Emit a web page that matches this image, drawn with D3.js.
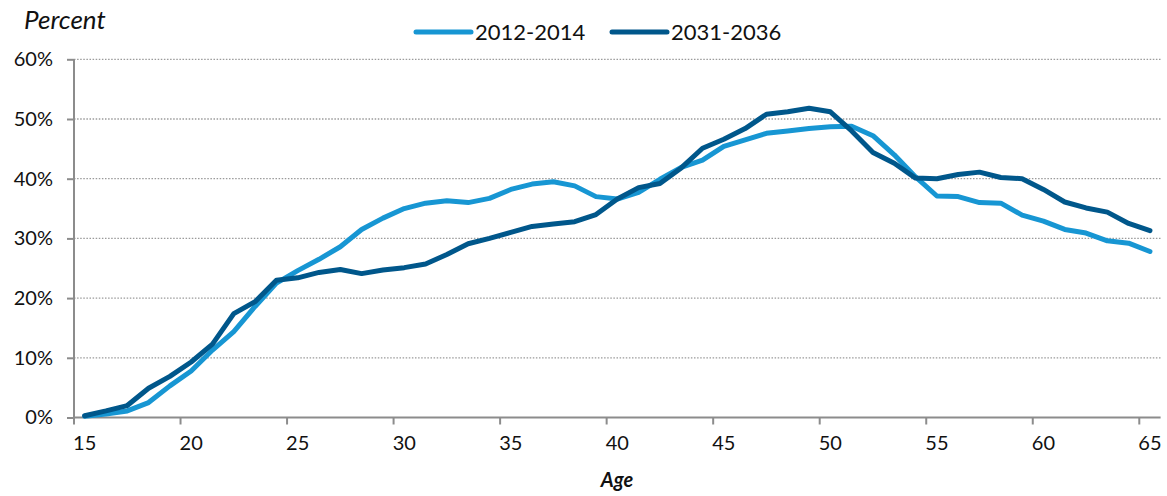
<!DOCTYPE html>
<html>
<head>
<meta charset="utf-8">
<script src="https://cdn.jsdelivr.net/npm/d3@7"></script>
<style>
  html, body { margin: 0; padding: 0; background: #fff; }
  svg { display: block; font-family: Lato, "Open Sans", sans-serif; }
</style>
</head>
<body>
<svg id="chart" width="1167" height="496"></svg>
<script>
const ages = d3.range(15, 66);
const seriesNames = ["2012-2014", "2031-2036"];
const values2012 = [0.2,0.6,1.1,2.5,5.3,7.8,11.3,14.4,18.6,22.5,24.6,26.5,28.6,31.5,33.4,35.0,35.9,36.3,36.0,36.7,38.2,39.1,39.5,38.8,37.0,36.6,37.7,39.9,41.9,43.1,45.4,46.5,47.6,48.0,48.4,48.7,48.8,47.2,44.0,40.3,37.1,37.0,36.0,35.9,33.9,32.9,31.5,30.9,29.6,29.2,27.8];
const values2031 = [0.3,1.1,2.0,4.9,6.9,9.3,12.3,17.4,19.4,23.0,23.4,24.3,24.8,24.1,24.7,25.1,25.7,27.3,29.1,30.0,31.0,32.0,32.4,32.8,34.0,36.6,38.5,39.2,41.8,45.1,46.6,48.4,50.8,51.2,51.8,51.2,48.0,44.4,42.6,40.1,40.0,40.7,41.1,40.2,40.0,38.2,36.1,35.1,34.4,32.5,31.3];
const yTicks = [0, 10, 20, 30, 40, 50, 60];
const xTickLabels = [15, 20, 25, 30, 35, 40, 45, 50, 55, 60, 65];
const colors = ["#1796d3", "#00578b"];

const svg = d3.select("#chart");
const plotLeft = 74, plotRight = 1160.6, plotTop = 59.3, plotBottom = 417.5;

const x = d3.scaleBand().domain(ages).range([plotLeft, plotRight]).padding(0);
const y = d3.scaleLinear().domain([0, 60]).range([plotBottom, plotTop]);
const cx = a => x(a) + x.bandwidth() / 2;

// gridlines
svg.append("g").selectAll("line").data(yTicks.filter(t => t > 0)).join("line")
  .attr("x1", plotLeft).attr("x2", plotRight)
  .attr("y1", d => y(d)).attr("y2", d => y(d))
  .attr("stroke", "#9a9a9a").attr("stroke-width", 1.3)
  .attr("stroke-dasharray", "1.5,1.6");

// y axis
const yAxis = d3.axisLeft(y).tickValues(yTicks).tickFormat(d => d + "%").tickSize(7).tickPadding(14);
const gy = svg.append("g").attr("transform", `translate(${plotLeft},0)`).call(yAxis);
gy.select(".domain").attr("stroke", "#8c8c8c").attr("stroke-width", 2).attr("d", `M0,${plotTop}V${plotBottom}`);
gy.selectAll(".tick line").attr("stroke", "#8c8c8c").attr("stroke-width", 2);
gy.selectAll(".tick text").attr("font-size", 20).attr("fill", "#111").attr("font-family", "Lato");

// x axis line
svg.append("line").attr("x1", plotLeft).attr("x2", plotRight).attr("y1", plotBottom).attr("y2", plotBottom)
  .attr("stroke", "#8c8c8c").attr("stroke-width", 2);
// tick marks between categories
svg.append("g").selectAll("line").data(xTickLabels).join("line")
  .attr("x1", d => x(d)).attr("x2", d => x(d))
  .attr("y1", plotBottom).attr("y2", plotBottom + 7)
  .attr("stroke", "#8c8c8c").attr("stroke-width", 2);
svg.append("g").selectAll("text").data(xTickLabels).join("text")
  .attr("x", d => cx(d)).attr("y", plotBottom + 32)
  .attr("text-anchor", "middle").attr("font-size", 20).attr("fill", "#111")
  .text(d => d);

// lines
const line = d3.line().x((d, i) => cx(ages[i])).y(d => y(d));
[values2012, values2031].forEach((vals, i) => {
  svg.append("path").datum(vals).attr("d", line)
    .attr("fill", "none").attr("stroke", colors[i]).attr("stroke-width", 5)
    .attr("stroke-linejoin", "round").attr("stroke-linecap", "round");
});

// titles
svg.append("text").attr("x", 24).attr("y", 29).attr("font-size", 26)
  .attr("font-style", "italic").attr("fill", "#111").text("Percent");
svg.append("text").attr("x", 617).attr("y", 487).attr("text-anchor", "middle")
  .attr("font-size", 20).attr("font-style", "italic").attr("font-weight", "bold")
  .attr("fill", "#111").text("Age");

// legend
const legendX = [416, 612];
seriesNames.forEach((name, i) => {
  const g = svg.append("g").attr("transform", `translate(${legendX[i]},32)`);
  g.append("line").attr("x1", 0).attr("x2", 55).attr("y1", 0).attr("y2", 0)
    .attr("stroke", colors[i]).attr("stroke-width", 5).attr("stroke-linecap", "round");
  g.append("text").attr("x", 59).attr("y", 0).attr("dy", "0.36em")
    .attr("font-size", 22).attr("fill", "#111").text(name);
});
</script>
</body>
</html>
